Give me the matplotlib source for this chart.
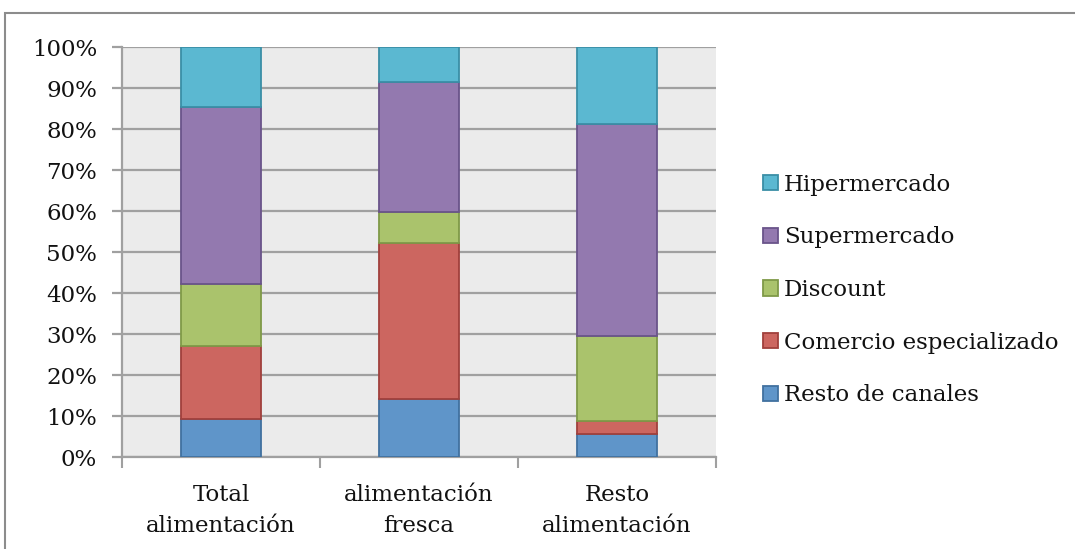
import numpy as np
import matplotlib.pyplot as plt
from matplotlib.patches import Rectangle
from matplotlib.ticker import FixedLocator

plt.rcParams['font.family'] = ['DejaVu Serif']

# data (share of each channel, %)
categories = ['Total\nalimentación', 'alimentación\nfresca', 'Resto\nalimentación']
series_names = ['Resto de canales', 'Comercio especializado', 'Discount',
                'Supermercado', 'Hipermercado']
resto_canales = [9.3, 14.2, 5.6]
comercio_esp = [17.8, 38.0, 3.3]
discount = [15.2, 7.7, 20.7]
supermercado = [43.2, 31.6, 51.6]
hipermercado = [14.5, 8.5, 18.8]
y_ticks = [0, 10, 20, 30, 40, 50, 60, 70, 80, 90, 100]

fills = ['#5F95C9', '#CC6660', '#AAC36C', '#9379AF', '#5BB8D1']
edges = ['#41719F', '#A0403C', '#7F9A48', '#6A548A', '#3A8FA6']
FS = 16.5

fig = plt.figure(figsize=(10.75, 5.49), dpi=100)
ax = fig.add_axes([122 / 1075, 1 - 457.3 / 549, (716 - 122) / 1075, 410 / 549])
ax.set_facecolor('#EBEBEB')

x = np.arange(len(categories))
bottom = np.zeros(len(categories))
handles = []
for vals, name, fc, ec in zip([resto_canales, comercio_esp, discount, supermercado, hipermercado],
                              series_names, fills, edges):
    b = ax.bar(x, vals, width=0.404, bottom=bottom, color=fc, edgecolor=ec,
               linewidth=1.3, label=name, zorder=3)
    handles.append(b)
    bottom += np.array(vals)

ax.set_xlim(-0.5, 2.5)
ax.set_ylim(0, 100)
ax.set_yticks(y_ticks)
ax.set_yticklabels([f'{v}%' for v in y_ticks], fontsize=FS, color='#111111')
ax.yaxis.grid(True, color='#A0A0A0', linewidth=1.6, zorder=1)
ax.set_axisbelow(True)

ax.set_xticks(x)
ax.set_xticklabels(categories, fontsize=FS, linespacing=1.55, color='#111111')
ax.xaxis.set_minor_locator(FixedLocator([-0.5, 0.5, 1.5, 2.5]))
ax.tick_params(axis='x', which='major', length=0, pad=19)
ax.tick_params(axis='x', which='minor', length=8, width=1.5, color='#A0A0A0')
ax.tick_params(axis='y', length=7, width=1.6, color='#A0A0A0', pad=11)

for s in ['top', 'right']:
    ax.spines[s].set_visible(False)
for s in ['left', 'bottom']:
    ax.spines[s].set_color('#A0A0A0')
    ax.spines[s].set_linewidth(1.6)

leg = ax.legend(handles[::-1], series_names[::-1], loc='center left',
                bbox_to_anchor=(763 / 1075, 1 - 290 / 549), bbox_transform=fig.transFigure,
                frameon=False, fontsize=FS, handlelength=0.65, handleheight=0.65,
                handletextpad=0.25, labelspacing=1.34, borderaxespad=0, borderpad=0)
for t in leg.get_texts():
    t.set_color('#111111')

# outer chart border
fig.patches.append(Rectangle((5 / 1075, -0.1), 1.1, 0.1 + (549 - 13) / 549,
                             transform=fig.transFigure, fill=False,
                             edgecolor='#8C8C8C', linewidth=1.5))

fig.savefig('out.png', dpi=100)
